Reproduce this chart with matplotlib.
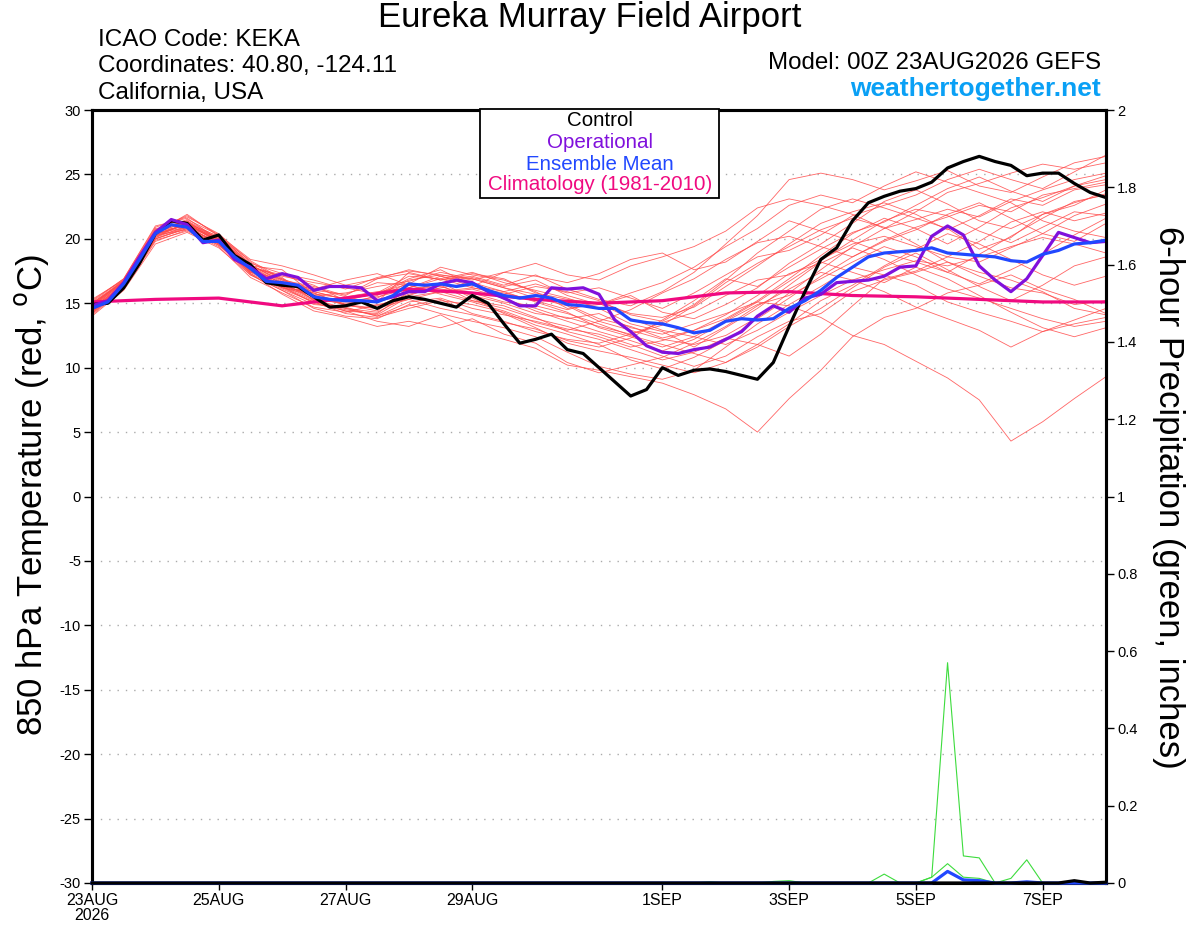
import matplotlib
matplotlib.use("Agg")
import matplotlib.pyplot as plt
import numpy as np
from matplotlib.patches import Rectangle

plt.rcParams['font.family'] = ['Liberation Sans', 'DejaVu Sans']
plt.rcParams['axes.unicode_minus'] = False

# forecast hours, 6-hourly out to 384 h
hours = np.arange(0, 385, 6)
member_hours = np.arange(0, 385, 12)
clim_hours = np.arange(0, 385, 24)

control = [14.9, 15.0, 16.2, 18.1, 20.4, 21.4, 21.2, 19.9, 20.3, 18.7,
           18.0, 16.6, 16.4, 16.3, 15.5, 14.7, 14.8, 15.1, 14.6, 15.2,
           15.5, 15.3, 15.0, 14.7, 15.6, 15.0, 13.4, 11.9, 12.2, 12.6,
           11.4, 11.1, 10.0, 8.9, 7.8, 8.3, 10.0, 9.4, 9.8, 9.9,
           9.7, 9.4, 9.1, 10.4, 13.2, 15.9, 18.4, 19.3, 21.4, 22.8,
           23.3, 23.7, 23.9, 24.4, 25.5, 26.0, 26.4, 26.0, 25.7, 24.9,
           25.1, 25.1, 24.3, 23.6, 23.2]

operational = [14.8, 15.2, 16.6, 18.6, 20.5, 21.5, 21.1, 19.7, 19.9, 18.4,
               17.8, 16.9, 17.3, 17.0, 16.0, 16.3, 16.3, 16.2, 15.2, 15.5,
               15.9, 15.9, 16.5, 16.8, 16.6, 15.9, 15.4, 14.8, 14.8, 16.2,
               16.1, 16.2, 15.7, 13.7, 12.8, 11.7, 11.2, 11.1, 11.4, 11.6,
               12.2, 12.8, 14.0, 14.8, 14.3, 15.4, 15.7, 16.6, 16.7, 16.8,
               17.1, 17.8, 17.9, 20.2, 21.0, 20.3, 17.9, 16.8, 15.9, 16.9,
               18.7, 20.5, 20.1, 19.7, 19.8]

ens_mean = [14.6, 15.1, 16.5, 18.4, 20.4, 21.1, 20.9, 19.8, 19.8, 18.6,
            17.7, 16.7, 16.6, 16.4, 15.5, 15.3, 15.2, 15.2, 15.1, 15.6,
            16.5, 16.4, 16.5, 16.3, 16.5, 16.0, 15.6, 15.4, 15.6, 15.4,
            14.9, 14.8, 14.6, 14.6, 13.7, 13.5, 13.4, 13.1, 12.7, 12.9,
            13.6, 13.8, 13.7, 13.8, 14.6, 15.2, 16.0, 17.0, 17.8, 18.6,
            18.9, 19.0, 19.1, 19.3, 18.9, 18.8, 18.7, 18.6, 18.3, 18.2,
            18.8, 19.1, 19.6, 19.7, 19.9]

climatology = [15.1, 15.3, 15.4, 14.8, 15.4, 16.1, 15.8, 15.3, 15.0,
               15.2, 15.8, 15.9, 15.6, 15.5, 15.3, 15.1, 15.1]

# 12-hourly ensemble member temperatures
members = [
    [14.2, 16.3, 20.1, 21.3, 19.6, 17.5, 16.2, 15.8, 14.9, 15.6, 16.8, 17.2, 16.9, 16.2, 15.4, 14.8, 13.6,
     12.9, 12.2, 11.8, 12.5, 13.9, 15.8, 17.6, 19.4, 20.8, 21.5, 22.3, 21.7, 22.9, 23.8, 24.6, 25.1],
    [14.8, 16.7, 20.6, 21.0, 20.1, 17.9, 17.0, 15.2, 14.6, 14.3, 15.6, 16.4, 15.2, 14.8, 13.9, 12.8, 12.2,
     11.4, 10.6, 11.2, 12.3, 11.8, 10.9, 12.6, 14.8, 16.9, 17.5, 18.6, 18.2, 19.3, 20.4, 19.8, 21.2],
    [15.1, 16.9, 20.9, 21.7, 20.4, 18.2, 16.8, 16.3, 15.6, 16.9, 17.3, 16.8, 17.1, 16.4, 17.2, 16.1, 15.3,
     14.8, 15.9, 17.4, 19.6, 21.8, 24.6, 25.1, 24.6, 23.8, 24.5, 25.3, 24.1, 23.6, 24.8, 25.9, 26.4],
    [14.0, 16.0, 19.6, 20.5, 19.3, 17.2, 16.0, 14.6, 14.0, 13.8, 14.9, 14.2, 13.6, 13.1, 12.4, 11.2, 10.1,
     9.5, 9.1, 9.8, 11.6, 13.4, 14.9, 16.3, 17.8, 17.2, 16.4, 15.1, 14.3, 13.6, 12.8, 13.4, 13.9],
    [14.5, 16.4, 20.3, 21.1, 19.9, 17.8, 16.5, 15.9, 15.3, 15.8, 17.1, 16.9, 16.2, 15.7, 16.3, 15.9, 15.2,
     14.1, 13.6, 14.9, 16.8, 18.9, 20.6, 22.3, 23.1, 22.4, 21.6, 20.8, 19.2, 20.1, 21.9, 22.8, 23.5],
    [15.3, 16.8, 20.7, 21.4, 19.7, 17.4, 16.9, 15.4, 14.9, 14.4, 16.2, 17.1, 16.6, 15.3, 14.6, 13.8, 14.2,
     13.1, 12.6, 13.4, 14.2, 15.1, 14.8, 13.9, 12.5, 11.8, 10.5, 9.2, 7.5, 4.3, 5.8, 7.6, 9.3],
    [14.4, 16.2, 20.0, 20.8, 19.5, 17.6, 16.3, 15.0, 14.4, 13.6, 13.2, 14.1, 12.8, 12.2, 11.5, 10.2, 9.8,
     9.3, 8.8, 7.9, 6.8, 5.0, 7.6, 9.8, 12.4, 13.9, 14.6, 15.8, 16.4, 17.2, 16.1, 15.3, 14.2],
    [14.7, 16.6, 20.5, 21.9, 20.2, 18.1, 17.3, 16.8, 16.1, 17.0, 17.5, 17.2, 16.8, 17.4, 17.1, 16.6, 17.3,
     18.4, 18.9, 17.6, 18.2, 19.8, 21.4, 20.6, 19.8, 18.9, 18.2, 17.4, 16.5, 17.6, 18.8, 20.3, 21.6],
    [14.1, 16.1, 19.9, 20.6, 19.4, 17.0, 15.8, 14.7, 14.3, 14.9, 15.3, 14.6, 14.1, 13.5, 13.0, 12.1, 11.6,
     12.3, 13.7, 15.2, 16.9, 16.3, 17.8, 19.2, 20.5, 21.3, 22.6, 23.9, 24.8, 23.7, 22.9, 24.1, 24.9],
    [15.0, 16.6, 20.4, 20.9, 20.0, 17.9, 17.6, 15.7, 15.4, 15.1, 17.4, 16.8, 17.3, 16.9, 15.8, 15.3, 15.0,
     13.8, 12.9, 12.4, 11.8, 12.9, 14.3, 15.6, 16.8, 17.6, 18.3, 17.9, 18.6, 19.4, 20.1, 19.6, 18.9],
    [14.6, 16.5, 20.2, 21.2, 19.8, 17.7, 16.4, 15.6, 15.8, 16.3, 16.7, 17.4, 16.9, 16.2, 15.7, 14.9, 13.8,
     13.2, 12.3, 12.9, 13.8, 15.2, 16.9, 18.7, 20.4, 21.6, 20.8, 19.6, 20.9, 22.4, 23.2, 24.1, 24.6],
    [14.3, 16.4, 20.6, 21.5, 20.3, 18.0, 16.7, 16.2, 15.5, 15.9, 16.2, 16.9, 17.4, 16.6, 16.0, 15.4, 14.6,
     13.4, 12.8, 11.6, 13.1, 14.6, 16.4, 18.2, 17.4, 16.6, 17.8, 16.9, 15.6, 14.3, 13.1, 12.4, 13.1],
    [15.2, 16.9, 21.0, 21.6, 19.9, 17.3, 16.1, 15.1, 14.5, 14.1, 15.5, 15.9, 16.2, 15.8, 15.2, 14.5, 15.1,
     14.2, 13.9, 14.7, 16.3, 17.9, 19.6, 21.2, 22.1, 22.8, 21.9, 20.7, 21.8, 23.1, 22.6, 23.8, 24.2],
    [14.9, 16.7, 20.3, 20.7, 19.6, 17.6, 16.6, 15.3, 15.0, 15.4, 16.6, 16.1, 15.8, 15.1, 14.8, 14.2, 13.4,
     12.5, 11.8, 11.1, 10.4, 11.6, 13.2, 14.6, 16.2, 17.8, 18.9, 17.6, 16.3, 15.2, 16.4, 17.9, 18.6],
    [14.5, 16.3, 20.0, 20.9, 19.7, 17.5, 16.3, 15.8, 14.8, 14.6, 16.0, 16.6, 17.0, 16.3, 16.8, 15.6, 14.9,
     15.8, 16.6, 17.8, 19.4, 20.8, 22.6, 23.4, 22.8, 24.1, 25.2, 24.4, 23.6, 22.8, 21.4, 20.6, 20.1],
    [14.8, 16.8, 20.8, 21.2, 20.2, 18.3, 16.9, 16.0, 15.7, 16.6, 16.4, 15.8, 16.1, 15.4, 14.4, 13.6, 12.8,
     12.1, 11.3, 12.2, 13.6, 14.9, 15.6, 16.9, 18.2, 19.4, 18.6, 17.4, 18.8, 20.2, 21.6, 22.9, 23.4],
    [14.4, 16.2, 20.1, 21.0, 19.6, 17.2, 16.0, 14.9, 14.7, 14.0, 15.1, 15.4, 14.6, 14.1, 13.6, 13.0, 12.6,
     11.8, 10.9, 10.1, 10.9, 12.4, 13.6, 14.2, 15.9, 16.8, 17.4, 18.2, 17.1, 16.2, 15.8, 14.9, 15.2],
    [15.0, 16.7, 20.5, 21.3, 20.0, 17.8, 17.1, 16.6, 16.2, 15.7, 16.9, 17.6, 16.4, 15.9, 16.5, 15.8, 16.2,
     15.4, 14.6, 15.8, 17.2, 18.6, 19.1, 20.3, 21.8, 22.6, 23.4, 24.6, 25.4, 24.6, 23.9, 25.2, 26.5],
    [14.6, 16.4, 20.4, 21.1, 19.8, 17.9, 16.5, 15.5, 15.1, 15.5, 16.1, 16.3, 15.6, 15.0, 14.2, 13.9, 13.2,
     12.6, 13.5, 14.3, 15.6, 16.8, 17.2, 18.4, 19.6, 20.2, 19.4, 18.6, 19.8, 21.3, 22.1, 21.4, 22.0],
    [14.2, 16.1, 19.8, 20.7, 19.5, 17.4, 16.2, 15.1, 14.2, 13.9, 14.6, 15.2, 14.9, 14.3, 13.3, 12.6, 11.8,
     10.6, 9.9, 10.8, 12.1, 13.8, 15.4, 17.1, 18.6, 19.9, 20.9, 21.7, 22.6, 22.1, 23.4, 23.9, 24.4],
    [14.7, 16.6, 20.7, 21.8, 20.3, 18.4, 17.9, 17.2, 16.4, 16.9, 17.6, 17.1, 16.3, 17.4, 18.1, 17.2, 16.8,
     17.9, 18.6, 19.4, 20.6, 22.4, 23.1, 22.6, 21.9, 20.8, 22.1, 23.6, 24.3, 25.1, 25.8, 25.4, 25.9],
    [14.4, 16.3, 20.2, 20.9, 19.6, 17.3, 15.7, 14.4, 13.9, 13.2, 13.6, 13.1, 13.8, 12.6, 11.9, 10.4, 9.6,
     10.2, 10.8, 11.9, 13.2, 14.8, 16.1, 17.4, 16.8, 15.9, 14.7, 13.8, 12.9, 11.6, 12.8, 13.7, 14.6],
    [15.0, 16.8, 20.6, 21.4, 20.1, 18.0, 16.6, 16.1, 16.8, 17.3, 16.4, 15.7, 15.1, 14.4, 13.5, 12.9, 13.6,
     14.5, 15.8, 16.9, 18.4, 19.7, 20.2, 19.4, 18.6, 19.8, 20.7, 21.9, 22.8, 21.6, 20.4, 21.8, 22.7],
    [14.3, 16.2, 20.0, 20.8, 19.7, 17.5, 16.3, 15.2, 14.4, 14.2, 15.9, 16.6, 15.4, 14.2, 13.1, 11.9, 11.3,
     10.8, 10.2, 9.6, 10.4, 11.8, 13.4, 15.2, 16.4, 17.9, 19.2, 20.4, 19.6, 18.4, 17.2, 16.4, 17.1],
    [14.9, 16.7, 20.4, 21.1, 19.9, 17.8, 17.2, 16.4, 15.2, 15.8, 16.5, 17.8, 17.2, 16.8, 15.9, 14.6, 14.9,
     15.6, 14.3, 13.8, 14.9, 16.2, 18.1, 19.6, 21.2, 22.9, 23.8, 22.7, 21.4, 20.8, 21.9, 22.6, 23.8],
    [14.5, 16.4, 20.3, 21.2, 19.9, 17.6, 16.2, 15.6, 14.9, 14.6, 15.3, 15.9, 15.2, 14.6, 13.8, 13.2, 12.4,
     11.6, 12.1, 12.9, 14.1, 15.6, 17.3, 18.1, 19.3, 18.4, 17.2, 16.1, 15.4, 14.6, 13.8, 13.2, 13.6],
    [14.8, 16.6, 20.5, 21.3, 20.0, 17.9, 16.8, 15.9, 15.3, 14.8, 15.7, 16.2, 16.6, 15.9, 15.1, 14.3, 13.1,
     12.4, 11.6, 12.4, 13.7, 15.1, 16.7, 18.3, 19.9, 21.4, 22.3, 21.8, 20.6, 19.7, 20.9, 22.1, 21.8],
    [14.6, 16.5, 20.4, 21.1, 19.8, 17.6, 16.4, 15.3, 14.6, 14.0, 14.8, 15.3, 14.2, 13.6, 12.8, 12.2, 11.9,
     12.6, 13.3, 14.8, 16.6, 18.1, 19.4, 20.7, 21.6, 20.9, 19.6, 18.2, 17.4, 16.8, 15.9, 14.6, 14.1],
]

# 6-hour precipitation (inches), only the non-zero steps (index of 6-h step: value)
precip_members = [
    {53: 0.015, 54: 0.57, 55: 0.07, 56: 0.065},
    {53: 0.015, 54: 0.05, 55: 0.015, 56: 0.012},
    {50: 0.023, 58: 0.012, 59: 0.06},
    {43: 0.004, 44: 0.006, 39: 0.003},
]
precip_mean = {54: 0.03, 55: 0.008, 56: 0.006, 59: 0.003}
precip_control = {62: 0.006, 64: 0.002}

tick_hours = [0, 48, 96, 144, 216, 264, 312, 360]
tick_labels = ['23AUG\n2026', '25AUG', '27AUG', '29AUG', '1SEP', '3SEP', '5SEP', '7SEP']

RED = '#ff4a4a'
PURPLE = '#8010dc'
BLUE = '#2148ff'
PINK = '#f00a80'
GREEN = '#3ddc3d'

fig = plt.figure(figsize=(12, 9.27), dpi=100)
ax = fig.add_axes([92 / 1200, 44 / 927, 1014 / 1200, 773 / 927])

for m in members:
    ax.plot(member_hours, m, color=RED, lw=0.6, alpha=0.85, zorder=2)
ax.plot(clim_hours, climatology, color=PINK, lw=2.3, zorder=3)
ax.plot(hours, control, color='black', lw=2.3, zorder=4)
ax.plot(hours, operational, color=PURPLE, lw=2.3, zorder=5)
ax.plot(hours, ens_mean, color=BLUE, lw=2.3, zorder=6)

ax.set_xlim(0, 384)
ax.set_ylim(-30, 30)
ax.set_yticks(np.arange(-30, 31, 5))
for yv in range(-25, 30, 5):
    ax.axhline(yv, color='#aaaaaa', lw=1.0, ls=(0, (1, 5)), zorder=1)
ax.set_xticks(tick_hours)
ax.set_xticklabels(tick_labels, fontsize=11.5, linespacing=1.0)
ax.tick_params(axis='y', labelsize=10.5, length=6, width=1, direction='out', pad=2)
ax.tick_params(axis='x', length=5, width=1, direction='out', pad=2)
for s in ax.spines.values():
    s.set_linewidth(2.2)

ax2 = ax.twinx()
ax2.set_ylim(0, 2)
ax2.set_yticks([0, 0.2, 0.4, 0.6, 0.8, 1, 1.2, 1.4, 1.6, 1.8, 2])
ax2.set_yticklabels(['0', '0.2', '0.4', '0.6', '0.8', '1', '1.2', '1.4', '1.6', '1.8', '2'])
ax2.tick_params(axis='y', labelsize=10.5, length=6, width=1, direction='out', pad=2)
for s in ax2.spines.values():
    s.set_linewidth(2.2)

for pm in precip_members:
    p = np.zeros(len(hours))
    for k, v in pm.items():
        p[k] = v
    ax2.plot(hours, p, color=GREEN, lw=0.8, zorder=2)
p = np.zeros(len(hours))
for k, v in precip_mean.items():
    p[k] = v
ax2.plot(hours, p, color=BLUE, lw=2.3, zorder=3, clip_on=False)
p = np.zeros(len(hours))
for k, v in precip_control.items():
    p[k] = v
ax2.plot(hours, p, color='black', lw=2.3, zorder=4, clip_on=False)

fig.text(32 / 1200, 1 - 495 / 927, '850 hPa Temperature (red, $^{\\mathrm{o}}$C)', rotation=90,
         ha='center', va='center', fontsize=25)
fig.text(1168 / 1200, 1 - 497 / 927, '6-hour Precipitation (green, inches)', rotation=270,
         ha='center', va='center', fontsize=25)

fig.text(590 / 1200, 1 - 18 / 927, 'Eureka Murray Field Airport', ha='center', va='center', fontsize=25)
fig.text(98 / 1200, 1 - 40 / 927, 'ICAO Code: KEKA', ha='left', va='center', fontsize=17.5)
fig.text(98 / 1200, 1 - 66 / 927, 'Coordinates: 40.80, -124.11', ha='left', va='center', fontsize=17.5)
fig.text(98 / 1200, 1 - 93 / 927, 'California, USA', ha='left', va='center', fontsize=17.5)
fig.text(1101 / 1200, 1 - 63 / 927, 'Model: 00Z 23AUG2026 GEFS', ha='right', va='center', fontsize=17.4)
fig.text(1101 / 1200, 1 - 89 / 927, 'weathertogether.net', ha='right', va='center', fontsize=19,
         fontweight='bold', color='#0aa0f5')

# legend box
fig.patches.append(Rectangle((480 / 1200, 1 - 198 / 927), 239 / 1200, 89 / 927,
                             transform=fig.transFigure, facecolor='white', edgecolor='black',
                             lw=1.3, zorder=10))
leg = [('Control', 'black', 121), ('Operational', PURPLE, 142),
       ('Ensemble Mean', BLUE, 164), ('Climatology (1981-2010)', PINK, 185)]
for txt, col, yy in leg:
    fig.text(600 / 1200, 1 - yy / 927, txt, color=col, ha='center', va='center', fontsize=14.8, zorder=11)

fig.savefig('out.png', dpi=100)
